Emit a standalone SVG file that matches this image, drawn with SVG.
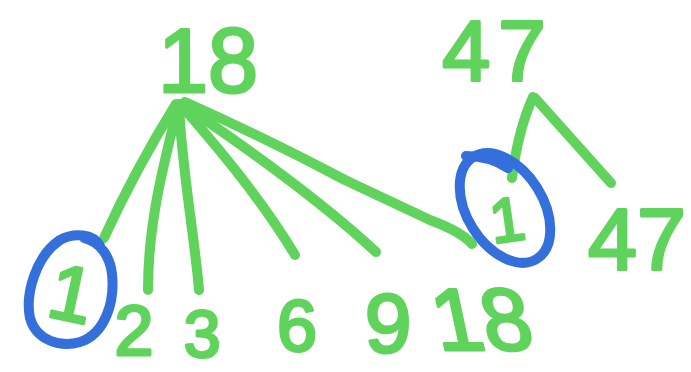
<svg xmlns="http://www.w3.org/2000/svg" width="691" height="372" viewBox="0 0 691 372">
  <style>
    .num { font-family: "Liberation Sans", Arial, sans-serif; fill: #5fd35b; stroke: #5fd35b; stroke-width: 3; stroke-linejoin: round; text-anchor: middle; }
    .branch { fill: none; stroke: #5fd35b; stroke-width: 10; stroke-linecap: round; stroke-linejoin: round; }
    .ring { fill: none; stroke: #3470dc; stroke-width: 10; stroke-linecap: round; stroke-linejoin: round; }
  </style>
  <rect width="691" height="372" fill="#ffffff"/>

  <!-- branches of the two factor trees -->
  <g id="connectors">
    <path class="branch" d="M176,104 Q135,170 104,238"/>
    <path class="branch" d="M178,106 C165,160 148,220 148,290"/>
    <path class="branch" d="M179,106 C182,170 195,240 199,290"/>
    <path class="branch" d="M180,104 C220,150 262,200 295,255"/>
    <path class="branch" d="M182,104 C250,150 320,200 376,252"/>
    <path class="branch" d="M185,102 Q270,140 345,180 Q400,206 430,220 Q462,232 472,244"/>
    <path class="branch" d="M533,97 Q518,130 512,178"/>
    <path class="branch" d="M535,98 L611,183"/>
  </g>

  <!-- first tree: 18 -->
  <g id="n18">
    <text class="num" x="208" y="92" font-size="90">18</text>
  </g>
  <g id="f1a">
    <path class="ring" d="M100,246 C94,234 74,232 60,240 C36,256 25,294 30,318 C36,340 60,348 80,342 C105,334 115,302 112,274 C110,256 100,242 84,238"/>
    <text class="num" x="0" y="0" font-size="78" transform="translate(66,320) rotate(12)">1</text>
  </g>
  <g id="f2"><text class="num" x="134" y="355" font-size="70">2</text></g>
  <g id="f3"><text class="num" x="202" y="357" font-size="66">3</text></g>
  <g id="f6"><text class="num" x="297" y="351" font-size="72">6</text></g>
  <g id="f9"><text class="num" x="388" y="352" font-size="84">9</text></g>
  <g id="f18">
    <text class="num" x="0" y="0" font-size="88" transform="translate(488,350) skewX(12)">18</text>
  </g>

  <!-- second tree: 47 -->
  <g id="n47">
    <text class="num" x="498" y="80" font-size="86" letter-spacing="8">47</text>
  </g>
  <g id="f1b">
    <ellipse class="ring" cx="505" cy="208" rx="60" ry="38" transform="rotate(58 505 208)"/>
    <path class="ring" d="M466,156 Q490,156 508,168"/>
    <text class="num" x="0" y="0" font-size="62" transform="translate(510,241) rotate(-8)">1</text>
  </g>
  <g id="f47">
    <text class="num" x="637" y="270" font-size="88">47</text>
  </g>
</svg>
